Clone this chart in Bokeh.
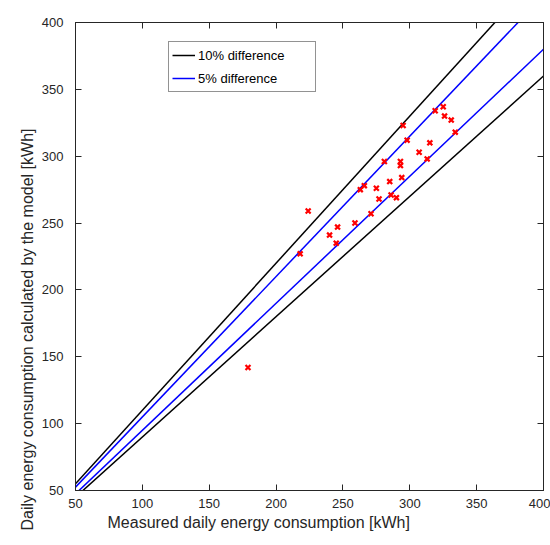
from bokeh.plotting import figure
from bokeh.models import (Range1d, FixedTicker, LinearAxis, Legend, LegendItem, Title)
from bokeh.embed import file_html
from bokeh.resources import INLINE

# ---- data ----
measured = [325, 319, 326, 331, 334, 295, 298, 315, 307, 313, 281, 293, 293, 294,
            285, 266, 263, 275, 277, 286, 290, 271, 259, 246, 240, 245, 224, 218, 179]
model = [337, 334, 330, 327, 318, 323, 312, 310, 303, 298, 296, 296, 293, 284,
         281, 278, 275, 276, 268, 271, 269, 257, 250, 247, 241, 235, 259, 227, 142]
ratios_10 = [1.10, 0.90]
ratios_5 = [1.05, 0.95]
x_limits = [50, 400]
tick_values = [50, 100, 150, 200, 250, 300, 350, 400]
x_title = "Measured daily energy consumption [kWh]"
y_title = "Daily energy consumption calculated by the model [kWh]"

FONT = "Liberation Sans"
AX = "#262626"

p = figure(width=550, height=545, output_backend="svg", toolbar_location=None,
           x_range=Range1d(50, 400), y_range=Range1d(50, 400),
           min_border_left=75, min_border_right=7, min_border_top=22, min_border_bottom=55)
p.grid.visible = False
p.outline_line_color = AX
p.background_fill_color = "white"
p.border_fill_color = "white"

def style_axis(ax, labels=True):
    ax.ticker = FixedTicker(ticks=tick_values)
    ax.major_tick_in = 6
    ax.major_tick_out = 0
    ax.minor_tick_line_color = None
    ax.axis_line_color = AX
    ax.major_tick_line_color = AX
    if labels:
        ax.major_label_text_font = FONT
        ax.major_label_text_font_size = "13px"
        ax.major_label_text_color = AX
    else:
        ax.major_label_text_font_size = "1px"
        ax.major_label_text_color = None
        ax.major_label_standoff = 0

style_axis(p.xaxis[0])
style_axis(p.yaxis[0])
p.xaxis[0].major_label_standoff = 8
p.yaxis[0].major_label_standoff = 12

top_ax = LinearAxis()
style_axis(top_ax, labels=False)
p.add_layout(top_ax, "above")
right_ax = LinearAxis()
style_axis(right_ax, labels=False)
p.add_layout(right_ax, "right")

# reference lines
r10 = []
for r in ratios_10:
    r10.append(p.line(x_limits, [r * v for v in x_limits], line_color="black", line_width=1.5))
r5 = []
for r in ratios_5:
    r5.append(p.line(x_limits, [r * v for v in x_limits], line_color="#0000ff", line_width=1.5))

p.scatter(measured, model, marker="x", size=7, line_width=2.2, line_color="#ff0000")

legend = Legend(items=[LegendItem(label="10% difference", renderers=[r10[0]]),
                       LegendItem(label="5% difference", renderers=[r5[0]])],
                location=(93, 398), margin=0, padding=3, spacing=3,
                glyph_width=23, glyph_height=20, label_height=20, label_width=114,
                label_standoff=3, label_text_font=FONT, label_text_font_size="13px",
                label_text_color="black", border_line_color=AX, border_line_width=1,
                background_fill_alpha=1.0)
p.add_layout(legend, "center")

xt = Title(text=x_title, align="left", offset=32, vertical_align="bottom",
           text_font=FONT, text_font_size="16px", text_font_style="normal",
           text_color=AX, standoff=2)
p.add_layout(xt, "below")
yt = Title(text=y_title, align="left", offset=-40,
           text_font=FONT, text_font_size="16px", text_font_style="normal",
           text_color=AX, standoff=6)
p.add_layout(yt, "left")

open("out.html", "w").write(file_html(p, INLINE))
